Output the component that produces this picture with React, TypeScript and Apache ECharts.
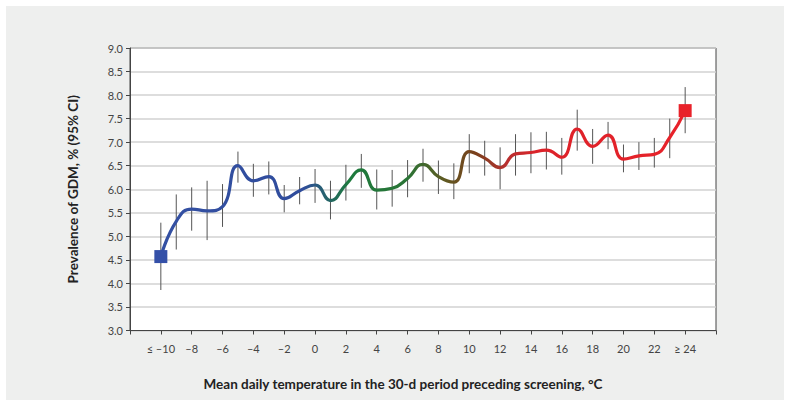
import React, { useEffect, useRef } from "react";
import * as echarts from "echarts";

const temps = [-10, -9, -8, -7, -6, -5, -4, -3, -2, -1, 0, 1, 2, 3, 4, 5, 6, 7, 8, 9, 10, 11, 12, 13, 14, 15, 16, 17, 18, 19, 20, 21, 22, 23, 24];
const prevalence = [4.57, 5.32, 5.58, 5.54, 5.63, 6.5, 6.18, 6.27, 5.8, 5.97, 6.09, 5.76, 6.1, 6.41, 5.98, 6.02, 6.23, 6.53, 6.27, 6.15, 6.8, 6.66, 6.46, 6.75, 6.78, 6.83, 6.68, 7.28, 6.91, 7.15, 6.64, 6.71, 6.74, 7.1, 7.67];
const ciLow = [3.86, 4.72, 5.12, 4.92, 5.2, 6.14, 5.84, 5.89, 5.51, 5.68, 5.71, 5.36, 5.76, 6.03, 5.57, 5.63, 5.83, 6.16, 5.9, 5.79, 6.34, 6.29, 6.0, 6.29, 6.34, 6.42, 6.31, 6.82, 6.54, 6.85, 6.36, 6.41, 6.46, 6.66, 7.19];
const ciHigh = [5.29, 5.89, 6.04, 6.18, 6.11, 6.8, 6.54, 6.59, 6.09, 6.26, 6.43, 6.18, 6.52, 6.75, 6.42, 6.41, 6.62, 6.86, 6.61, 6.55, 7.17, 7.03, 6.89, 7.17, 7.21, 7.22, 7.09, 7.69, 7.28, 7.43, 6.95, 7.0, 7.09, 7.5, 8.17];
const xTickValues = [-10, -8, -6, -4, -2, 0, 2, 4, 6, 8, 10, 12, 14, 16, 18, 20, 22, 24];
const xTickLabels = ["≤ –10", "–8", "–6", "–4", "–2", "0", "2", "4", "6", "8", "10", "12", "14", "16", "18", "20", "22", "≥ 24"];

const FONT = "Lato, 'Noto Sans', sans-serif";

export default function App() {
  const ref = useRef<HTMLDivElement>(null);
  useEffect(() => {
    if (!ref.current) return;
    const chart = echarts.init(ref.current, null, { renderer: "svg" });
    const lineData = temps.map((t, i) => [t, prevalence[i]]);
    const ciData = temps.map((t, i) => [t, ciLow[i], ciHigh[i]]);
    const last = temps.length - 1;
    chart.setOption({
      animation: false,
      backgroundColor: "transparent",
      textStyle: { fontFamily: FONT },
      grid: {
        left: 130,
        top: 48,
        width: 586,
        height: 282.5,
        show: true,
        backgroundColor: "#ffffff",
        borderColor: "#444",
        borderWidth: 1,
      },
      xAxis: {
        type: "value",
        min: -12,
        max: 26,
        interval: 2,
        axisLine: { onZero: false, lineStyle: { color: "#444", width: 1 } },
        axisTick: { show: true, length: 4, lineStyle: { color: "#444" } },
        splitLine: { show: false },
        axisLabel: {
          color: "#444",
          fontSize: 11,
          margin: 12,
          fontFamily: FONT,
          formatter: (v: number) => {
            const idx = xTickValues.indexOf(v);
            return idx >= 0 ? xTickLabels[idx] : "";
          },
        },
        name: "Mean daily temperature in the 30-d period preceding screening, °C",
        nameLocation: "middle",
        nameGap: 46,
        nameTextStyle: { color: "#222", fontSize: 13.5, fontWeight: "bold", fontFamily: FONT, padding: [0, 40, 0, 0] },
      },
      yAxis: {
        type: "value",
        min: 3,
        max: 9,
        interval: 0.5,
        axisLine: { show: true, onZero: false, lineStyle: { color: "#444", width: 1 } },
        axisTick: { show: true, length: 4, lineStyle: { color: "#444" } },
        splitLine: { show: true, lineStyle: { color: "#d2d2d2", width: 1.5 } },
        axisLabel: {
          color: "#444",
          fontSize: 11,
          margin: 7,
          fontFamily: FONT,
          formatter: (v: number) => v.toFixed(1),
        },
        name: "Prevalence of GDM, % (95% CI)",
        nameLocation: "middle",
        nameGap: 50,
        nameTextStyle: { color: "#222", fontSize: 13.5, fontWeight: "bold", fontFamily: FONT },
      },
      series: [
        {
          type: "custom",
          data: ciData,
          z: 1,
          renderItem: (params: any, api: any) => {
            const p1 = api.coord([api.value(0), api.value(1)]);
            const p2 = api.coord([api.value(0), api.value(2)]);
            return {
              type: "line",
              shape: { x1: p1[0], y1: p1[1], x2: p2[0], y2: p2[1] },
              style: { stroke: "#555", lineWidth: 1 },
            };
          },
        },
        {
          type: "line",
          data: lineData,
          smooth: 0.5,
          symbol: "none",
          z: 3,
          lineStyle: {
            width: 3.2,
            color: {
              type: "linear",
              x: 0,
              y: 0,
              x2: 1,
              y2: 0,
              colorStops: [
                { offset: 0, color: "#3450a3" },
                { offset: 0.27, color: "#2f4c9c" },
                { offset: 0.36, color: "#1d7a3d" },
                { offset: 0.47, color: "#2a7436" },
                { offset: 0.54, color: "#5e5a22" },
                { offset: 0.6, color: "#7a401c" },
                { offset: 0.66, color: "#b83030" },
                { offset: 0.72, color: "#dc2229" },
                { offset: 1, color: "#e8222a" },
              ],
            },
          },
        },
        {
          type: "scatter",
          z: 4,
          symbol: "rect",
          symbolSize: 13,
          itemStyle: { opacity: 1 },
          data: [
            { value: [temps[0], prevalence[0]], itemStyle: { color: "#3450a8", opacity: 1 } },
            { value: [temps[last], prevalence[last]], itemStyle: { color: "#e8222a", opacity: 1 } },
          ],
        },
      ],
    });
    return () => chart.dispose();
  }, []);

  return (
    <div style={{ position: "fixed", left: 0, top: 0, width: 791, height: 408, background: "#ffffff" }}>
      <div style={{ position: "absolute", left: 6, top: 6, width: 778, height: 394, background: "#eeefee" }} />
      <div ref={ref} style={{ position: "absolute", left: 0, top: 0, width: 791, height: 408 }} />
    </div>
  );
}
